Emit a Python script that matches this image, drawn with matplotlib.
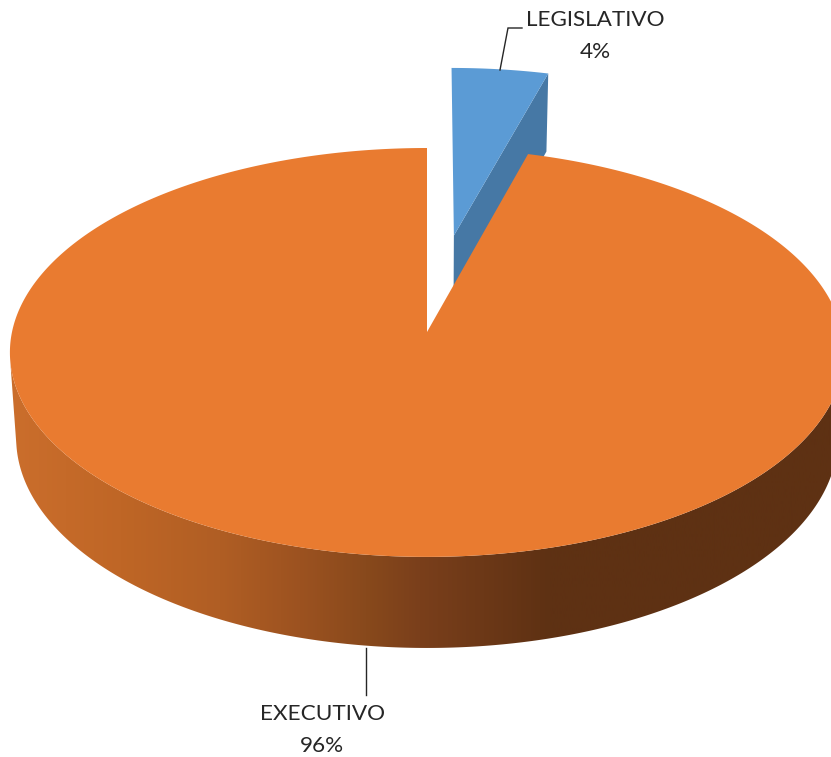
import numpy as np
import matplotlib
matplotlib.use('Agg')
import matplotlib.pyplot as plt
from matplotlib.colors import LinearSegmentedColormap
from matplotlib.patches import Polygon

# data (the labels round to 96% and 4%)
categories = ['LEGISLATIVO', 'EXECUTIVO']
shares = [4.3, 95.7]
explode = [0.505, 0.0]

top_colors = ['#5B9BD5', '#E97B30']
wall_colors = ['#4678A5', None]

# horizontal shading of the orange wall: position in pixels, colour
wall_stops_x = [10, 120, 220, 300, 366, 420, 550, 831]
wall_stops_color = ['#CB6E2C', '#BF6626', '#B05E24', '#9C5220', '#88491C', '#7A3F1B', '#5E3113', '#5E3113']

W, H = 831, 757
CX, CY = 427, 332     # pie centre on the top face
RX, RY = 415, 202.4   # radii before perspective
K = 0.1               # perspective along the depth of the table
DEPTH = 85            # height of the pie
SHRINK = 0.015        # the lower face is a little smaller


def project(u, v, z=0.0):
    # u, v on the plane of the pie, z = 0 top face, z = 1 lower face
    w = 1 + K * np.asarray(v)
    s = 1 - SHRINK * z
    return CX + RX * s * np.asarray(u) / w, CY + (-RY * s * np.asarray(v) + DEPTH * z) / w


def arc(t0, t1, du=0.0, dv=0.0, z=0.0, n=400):
    # angles clockwise from the top, in radians
    t = np.linspace(t0, t1, n)
    return project(du + np.sin(t), dv + np.cos(t), z)


def poly(x, y, **kw):
    return Polygon(np.column_stack([x, y]), closed=True, linewidth=0, **kw)


fig = plt.figure(figsize=(W / 100, H / 100), dpi=100)
ax = fig.add_axes([0, 0, 1, 1])
ax.set_xlim(0, W)
ax.set_ylim(H, 0)
ax.axis('off')

end = 2 * np.pi * shares[0] / sum(shares)

# legislative slice, pulled out along its bisector
du = explode[0] * np.sin(end / 2)
dv = explode[0] * np.cos(end / 2)
ax0, ay0 = project(du, dv)
ax1, ay1 = project(du, dv, 1)
ex0, ey0 = project(du + np.sin(end), dv + np.cos(end))
ex1, ey1 = project(du + np.sin(end), dv + np.cos(end), 1)
ax.add_patch(poly([ax0, ex0, ex1, ax1], [ay0, ey0, ey1, ay1], facecolor=wall_colors[0], zorder=1))
x, y = arc(0, end, du, dv)
ax.add_patch(poly(np.r_[ax0, x], np.r_[ay0, y], facecolor=top_colors[0], zorder=2))

# executive wall: gradient clipped to the front band
grad = LinearSegmentedColormap.from_list(
    'wall', [((p - wall_stops_x[0]) / (wall_stops_x[-1] - wall_stops_x[0]), c)
             for p, c in zip(wall_stops_x, wall_stops_color)], N=512)
xt, yt = arc(np.radians(98), np.radians(262))
xb, yb = arc(np.radians(98), np.radians(262), z=1)
band = poly(np.r_[xt, xb[::-1]], np.r_[yt, yb[::-1]], facecolor='none', zorder=3)
ax.add_patch(band)
im = ax.imshow(np.linspace(0, 1, 800)[None, :], cmap=grad, aspect='auto', zorder=3,
               extent=[wall_stops_x[0], wall_stops_x[-1], H, 0])
im.set_clip_path(band)
ax.set_xlim(0, W)
ax.set_ylim(H, 0)

# executive top face
x, y = arc(end, 2 * np.pi, n=900)
ax.add_patch(poly(np.r_[CX, x], np.r_[CY, y], facecolor=top_colors[1], zorder=4))

# leader lines and labels
ax.plot([500, 508, 522], [70, 28, 28], color='#262626', lw=1, zorder=5, solid_joinstyle='miter')
ax.plot([366, 366], [648, 695], color='#262626', lw=1, zorder=5)

font = dict(family='Lato', fontsize=16.2, color='#262626', ha='center', va='center', linespacing=1.75)
ax.text(595, 35.5, f'{categories[0]}\n{round(shares[0])}%', **font)
ax.text(322, 729.5, f'{categories[1]}\n{round(shares[1])}%', **font)

fig.savefig('out.png', dpi=100, facecolor='white')
